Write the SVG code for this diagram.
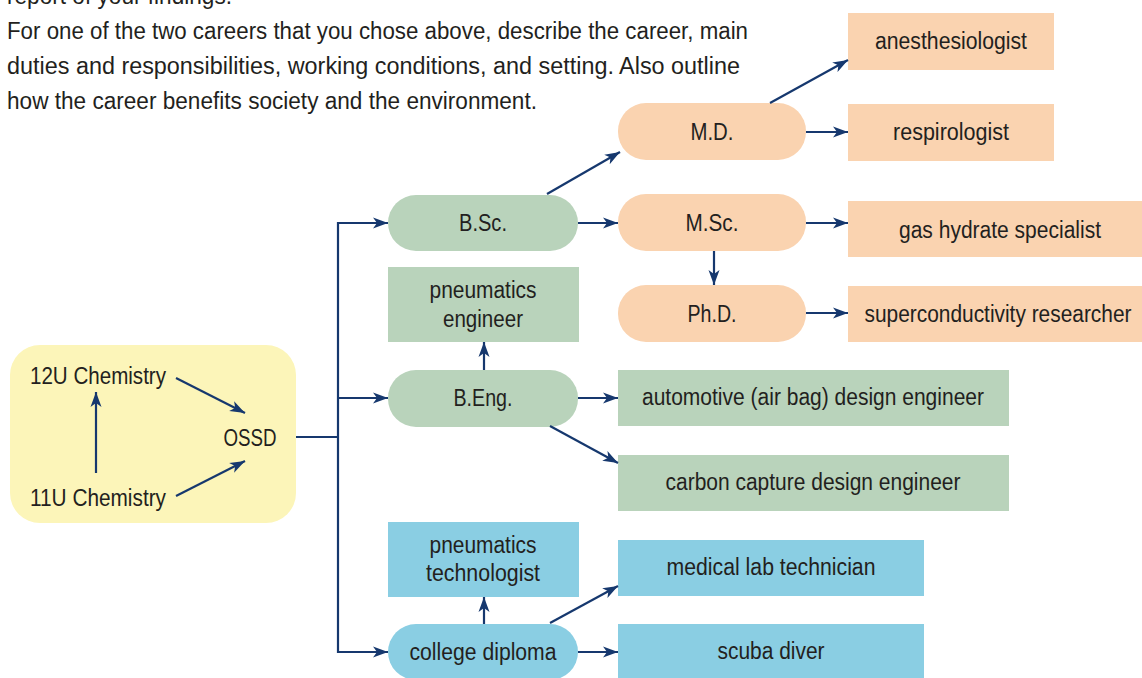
<svg xmlns="http://www.w3.org/2000/svg" width="1142" height="678" viewBox="0 0 1142 678">
<style>
text{font-family:"Liberation Sans",Arial,sans-serif;font-size:23px;fill:#231F20;}
.m{text-anchor:middle;}
.y{fill:#FCF5B9;}
.g{fill:#B9D3BB;}
.p{fill:#FAD3B0;}
.b{fill:#8ACEE3;}
.c{fill:none;stroke:#16386E;stroke-width:2.2;}
.a{marker-end:url(#ah);}
</style>
<defs>
<marker id="ah" markerUnits="userSpaceOnUse" markerWidth="16" markerHeight="12" viewBox="0 0 16 12" refX="15" refY="6" orient="auto">
<path d="M0,0.5 L15,6 L0,11.5 L4,6 Z" fill="#16386E"/>
</marker>
</defs>
<rect width="1142" height="678" fill="#FFFFFF"/>
<g id="intro">
<text x="7" y="4" textLength="225" lengthAdjust="spacingAndGlyphs">report of your findings.</text>
<text x="7" y="39" textLength="741" lengthAdjust="spacingAndGlyphs">For one of the two careers that you chose above, describe the career, main</text>
<text x="7" y="74" textLength="733" lengthAdjust="spacingAndGlyphs">duties and responsibilities, working conditions, and setting. Also outline</text>
<text x="7" y="109" textLength="530" lengthAdjust="spacingAndGlyphs">how the career benefits society and the environment.</text>
</g>
<g id="school">
<rect class="y" x="10" y="345" width="286" height="178" rx="30"/>
<g id="n12u"><text x="98" y="384" class="m" textLength="136" lengthAdjust="spacingAndGlyphs">12U Chemistry</text></g>
<g id="n11u"><text x="98" y="506" class="m" textLength="136" lengthAdjust="spacingAndGlyphs">11U Chemistry</text></g>
<g id="ossd"><text x="250" y="446" class="m" textLength="53" lengthAdjust="spacingAndGlyphs">OSSD</text></g>
</g>
<g id="bsc"><rect class="g" x="388" y="195" width="190" height="56" rx="28"/><text x="483" y="231" class="m" textLength="48" lengthAdjust="spacingAndGlyphs">B.Sc.</text></g>
<g id="pneueng"><rect class="g" x="388" y="267" width="191" height="75"/><text x="483" y="298" class="m" textLength="107" lengthAdjust="spacingAndGlyphs">pneumatics</text><text x="483" y="327" class="m" textLength="80" lengthAdjust="spacingAndGlyphs">engineer</text></g>
<g id="beng"><rect class="g" x="388" y="370" width="190" height="57" rx="28"/><text x="483" y="406" class="m" textLength="59" lengthAdjust="spacingAndGlyphs">B.Eng.</text></g>
<g id="pneutech"><rect class="b" x="388" y="522" width="191" height="75"/><text x="483" y="553" class="m" textLength="107" lengthAdjust="spacingAndGlyphs">pneumatics</text><text x="483" y="581" class="m" textLength="114" lengthAdjust="spacingAndGlyphs">technologist</text></g>
<g id="diploma"><rect class="b" x="388" y="624" width="190" height="56" rx="28"/><text x="483" y="660" class="m" textLength="147" lengthAdjust="spacingAndGlyphs">college diploma</text></g>
<g id="md"><rect class="p" x="618" y="103" width="188" height="57" rx="28"/><text x="712" y="140" class="m" textLength="43" lengthAdjust="spacingAndGlyphs">M.D.</text></g>
<g id="msc"><rect class="p" x="618" y="194" width="188" height="57" rx="28"/><text x="712" y="231" class="m" textLength="53" lengthAdjust="spacingAndGlyphs">M.Sc.</text></g>
<g id="phd"><rect class="p" x="618" y="285" width="188" height="57" rx="28"/><text x="712" y="322" class="m" textLength="49" lengthAdjust="spacingAndGlyphs">Ph.D.</text></g>
<g id="anest"><rect class="p" x="848" y="13" width="206" height="57"/><text x="951" y="49" class="m" textLength="152" lengthAdjust="spacingAndGlyphs">anesthesiologist</text></g>
<g id="resp"><rect class="p" x="848" y="104" width="206" height="57"/><text x="951" y="140" class="m" textLength="116" lengthAdjust="spacingAndGlyphs">respirologist</text></g>
<g id="gas"><rect class="p" x="848" y="201" width="294" height="56"/><text x="1000" y="238" class="m" textLength="202" lengthAdjust="spacingAndGlyphs">gas hydrate specialist</text></g>
<g id="super"><rect class="p" x="848" y="286" width="294" height="56"/><text x="998" y="322" class="m" textLength="267" lengthAdjust="spacingAndGlyphs">superconductivity researcher</text></g>
<g id="auto"><rect class="g" x="618" y="370" width="391" height="56"/><text x="813" y="405" class="m" textLength="342" lengthAdjust="spacingAndGlyphs">automotive (air bag) design engineer</text></g>
<g id="carbon"><rect class="g" x="618" y="455" width="391" height="56"/><text x="813" y="490" class="m" textLength="295" lengthAdjust="spacingAndGlyphs">carbon capture design engineer</text></g>
<g id="medlab"><rect class="b" x="618" y="540" width="306" height="56"/><text x="771" y="575" class="m" textLength="209" lengthAdjust="spacingAndGlyphs">medical lab technician</text></g>
<g id="scuba"><rect class="b" x="618" y="624" width="306" height="56"/><text x="771" y="659" class="m" textLength="107" lengthAdjust="spacingAndGlyphs">scuba diver</text></g>
<g id="connectors">
<line class="c a" x1="96" y1="473" x2="96" y2="392"/>
<line class="c a" x1="176" y1="378" x2="245" y2="413"/>
<line class="c a" x1="176" y1="496" x2="245" y2="461"/>
<polyline class="c" points="296,437 338,437"/>
<line class="c" x1="338" y1="222" x2="338" y2="653"/>
<line class="c a" x1="337" y1="223" x2="388" y2="223"/>
<line class="c a" x1="337" y1="398" x2="388" y2="398"/>
<line class="c a" x1="337" y1="652" x2="388" y2="652"/>
<line class="c a" x1="547" y1="194" x2="620" y2="152"/>
<line class="c a" x1="578" y1="223" x2="618" y2="223"/>
<line class="c a" x1="484" y1="370" x2="484" y2="342"/>
<line class="c a" x1="578" y1="398" x2="618" y2="398"/>
<line class="c a" x1="550" y1="426" x2="618" y2="463"/>
<line class="c a" x1="484" y1="624" x2="484" y2="597"/>
<line class="c a" x1="550" y1="623" x2="618" y2="586"/>
<line class="c a" x1="578" y1="652" x2="618" y2="652"/>
<line class="c a" x1="770" y1="103" x2="848" y2="60"/>
<line class="c a" x1="806" y1="132" x2="848" y2="132"/>
<line class="c a" x1="806" y1="223" x2="848" y2="223"/>
<line class="c a" x1="714" y1="251" x2="714" y2="285"/>
<line class="c a" x1="806" y1="313" x2="848" y2="313"/>
</g>
</svg>
